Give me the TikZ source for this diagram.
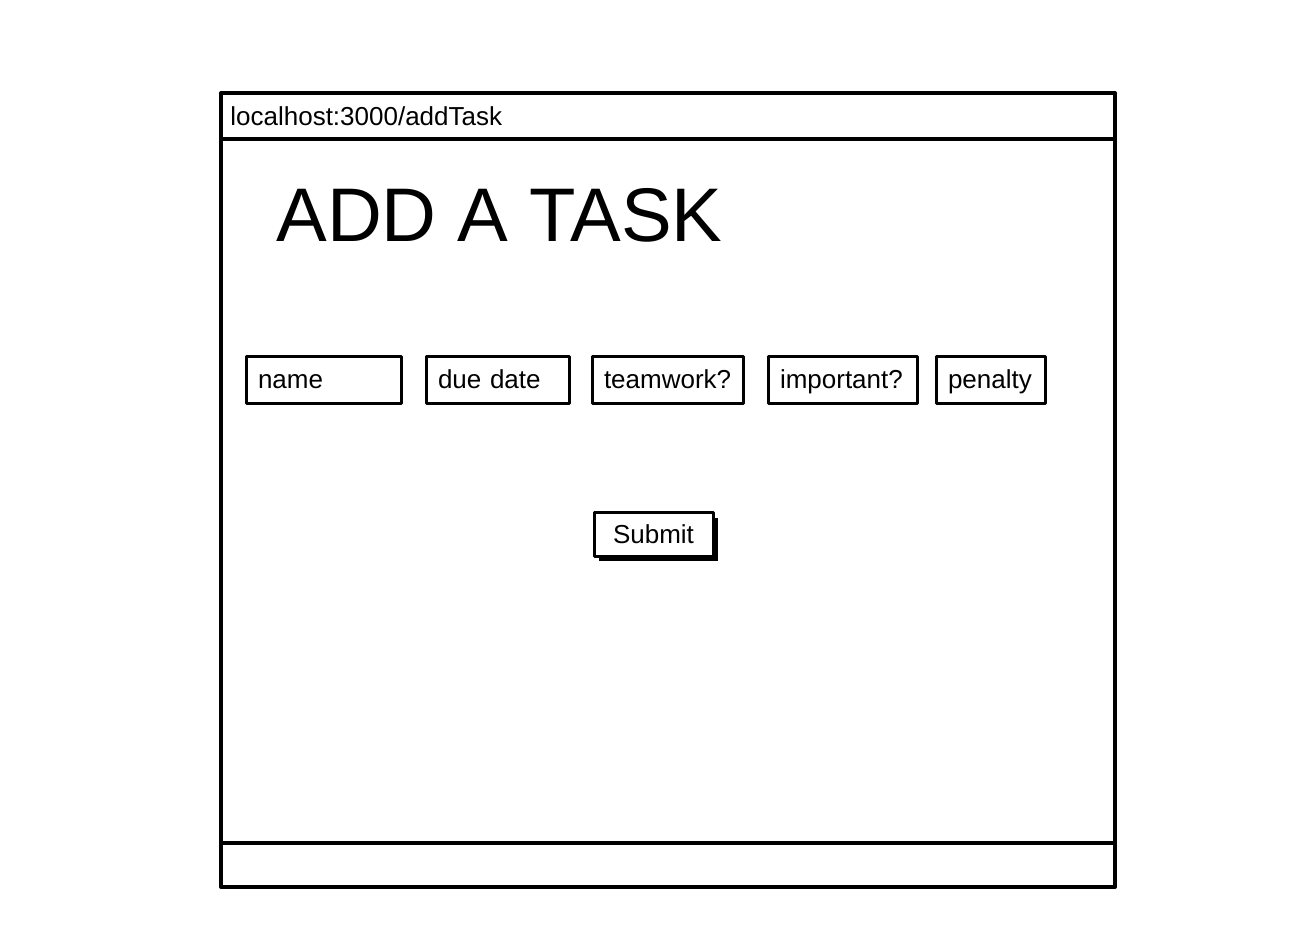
\documentclass[tikz,border=0pt]{standalone}
\usepackage{fontspec}
\setmainfont{Liberation Sans}
\usetikzlibrary{shadows}

\begin{document}
\begin{tikzpicture}[x=0.5pt, y=-0.5pt, line join=round]

    \tikzset{field/.style={%
      draw,%
      rectangle,%
      line width=1.5pt,%
      outer sep=0pt,%
      anchor=west,%
      minimum height=23.5pt,%
      inner xsep=6pt,%
      text height=10pt,%
      text depth=1pt,%
      align=left,%
      font=\fontsize{13}{15}\selectfont}%
    };

    \tikzset{button/.style={field, anchor=center, fill=white, minimum width=59.5pt,
      minimum height=21.5pt, align=center,
      drop shadow={shadow xshift=2.5pt, shadow yshift=-2.5pt, fill=black, opacity=1}}};

    \useasboundingbox (0,0) rectangle (1312,930);

    %%%%%%%%%%%
    % browser %
    %%%%%%%%%%%
    \path (221, 93) node [draw, line width=2pt, outer sep=0pt, anchor=north west,
      minimum width=447pt, minimum height=397pt] (window) {};

    \draw [line width=2pt] ([yshift=-23pt]window.north west) -- ([yshift=-23pt]window.north east);
    \draw [line width=2pt] ([yshift=22pt]window.south west) -- ([yshift=22pt]window.south east);

    \path (230, 116) node [anchor=west, inner sep=0pt, font=\fontsize{13}{15}\selectfont] (url) {localhost:3000/addTask};

    \path (276, 215) node [anchor=west, inner sep=0pt, font=\fontsize{38}{40}\selectfont] (title) {ADD A TASK};

    %%%%%%%%%%
    % fields %
    %%%%%%%%%%
    \path (246, 380) node [field, text width=65.5pt] (fname) {name};

    \path (426, 380) node [field, text width=59.5pt] (fdue) {due date};

    \path (592, 380) node [field, text width=63.5pt] (fteam) {teamwork?};

    \path (768, 380) node [field, text width=62.5pt] (fimp) {important?};

    \path (936, 380) node [field, text width=42.5pt] (fpen) {penalty};

    \path (653.5, 534.5) node [button] (submit) {Submit};

  \end{tikzpicture}
\end{document}
